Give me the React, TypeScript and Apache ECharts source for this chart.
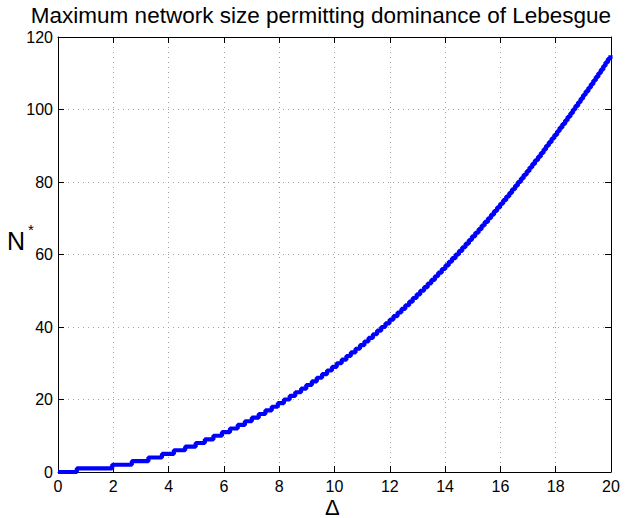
import React, { useEffect, useRef } from "react";
import * as echarts from "echarts";

const titleText = "Maximum network size permitting dominance of Lebesgue";
const xTicks = [0, 2, 4, 6, 8, 10, 12, 14, 16, 18, 20];
const yTicks = [0, 20, 40, 60, 80, 100, 120];

// Δ at which N* steps up to the corresponding level
const stepDelta = [
  0.68, 1.96, 2.67, 3.27, 3.76, 4.19, 4.6, 4.98, 5.31, 5.62,
  5.93, 6.22, 6.5, 6.76, 7.01, 7.26, 7.5, 7.73, 7.95, 8.17,
  8.38, 8.58, 8.79, 8.98, 9.18, 9.36, 9.55, 9.73, 9.91, 10.08,
  10.26, 10.43, 10.59, 10.76, 10.92, 11.08, 11.23, 11.39, 11.54, 11.69,
  11.84, 11.99, 12.13, 12.28, 12.42, 12.56, 12.7, 12.83, 12.97, 13.1,
  13.24, 13.37, 13.5, 13.63, 13.75, 13.88, 14.01, 14.13, 14.25, 14.38,
  14.5, 14.62, 14.74, 14.86, 14.97, 15.09, 15.21, 15.32, 15.43, 15.55,
  15.66, 15.77, 15.88, 15.99, 16.1, 16.21, 16.32, 16.42, 16.53, 16.63,
  16.74, 16.84, 16.95, 17.05, 17.15, 17.25, 17.36, 17.46, 17.56, 17.65,
  17.75, 17.85, 17.95, 18.05, 18.14, 18.24, 18.34, 18.43, 18.53, 18.62,
  18.71, 18.81, 18.9, 18.99, 19.08, 19.18, 19.27, 19.36, 19.45, 19.54,
  19.63, 19.72, 19.8, 19.89, 19.98,
];
const stepLevel = [
  1, 2, 3, 4, 5, 6, 7, 8, 9, 10,
  11, 12, 13, 14, 15, 16, 17, 18, 19, 20,
  21, 22, 23, 24, 25, 26, 27, 28, 29, 30,
  31, 32, 33, 34, 35, 36, 37, 38, 39, 40,
  41, 42, 43, 44, 45, 46, 47, 48, 49, 50,
  51, 52, 53, 54, 55, 56, 57, 58, 59, 60,
  61, 62, 63, 64, 65, 66, 67, 68, 69, 70,
  71, 72, 73, 74, 75, 76, 77, 78, 79, 80,
  81, 82, 83, 84, 85, 86, 87, 88, 89, 90,
  91, 92, 93, 94, 95, 96, 97, 98, 99, 100,
  101, 102, 103, 104, 105, 106, 107, 108, 109, 110,
  111, 112, 113, 114, 115,
];
const startPoint = [0, 0];
const endPoint = [20, 115];

const FONT = "'Liberation Sans', Arial, Helvetica, sans-serif";

export default function App() {
  const ref = useRef<HTMLDivElement>(null);
  useEffect(() => {
    if (!ref.current) return;
    const chart = echarts.init(ref.current, undefined, { renderer: "svg" });
    const data: number[][] = [startPoint];
    stepDelta.forEach((d, i) => data.push([d, stepLevel[i]]));
    data.push(endPoint);

    const xMin = xTicks[0];
    const xMax = xTicks[xTicks.length - 1];
    const yMin = yTicks[0];
    const yMax = yTicks[yTicks.length - 1];

    const baseAxis = {
      type: "value" as const,
      axisLine: { show: true, onZero: false, lineStyle: { color: "#000", width: 1 } },
      axisTick: { show: true, inside: true, length: 6, lineStyle: { color: "#000" } },
    };

    chart.setOption({
      animation: false,
      backgroundColor: "#fff",
      title: {
        text: titleText,
        left: 321,
        textAlign: "center",
        top: 4,
        padding: 0,
        textStyle: {
          fontFamily: FONT,
          fontSize: 22.5,
          lineHeight: 22,
          fontWeight: "normal",
          color: "#000",
        },
      },
      grid: { left: 58, right: 32, top: 37, bottom: 46, containLabel: false },
      xAxis: [
        {
          ...baseAxis,
          position: "bottom",
          min: xMin,
          max: xMax,
          interval: 2,
          axisLabel: { fontFamily: FONT, fontSize: 16, color: "#000", margin: 6 },
          splitLine: { show: true, lineStyle: { color: "#a0a0a0", type: [1, 4], width: 1 } },
        },
        {
          ...baseAxis,
          position: "top",
          min: xMin,
          max: xMax,
          interval: 2,
          axisLabel: { show: false },
          splitLine: { show: false },
        },
      ],
      yAxis: [
        {
          ...baseAxis,
          position: "left",
          min: yMin,
          max: yMax,
          interval: 20,
          axisLabel: { fontFamily: FONT, fontSize: 16, color: "#000", margin: 5 },
          splitLine: { show: true, lineStyle: { color: "#a0a0a0", type: [1, 4], width: 1 } },
        },
        {
          ...baseAxis,
          position: "right",
          min: yMin,
          max: yMax,
          interval: 20,
          axisLabel: { show: false },
          splitLine: { show: false },
        },
      ],
      graphic: [
        {
          type: "text",
          left: 325,
          top: 496,
          style: { text: "Δ", fontFamily: FONT, fontSize: 22, fill: "#000" },
        },
        {
          type: "text",
          left: 7,
          top: 228,
          style: { text: "N", fontFamily: FONT, fontSize: 25, fill: "#000" },
        },
        {
          type: "text",
          left: 28,
          top: 222,
          style: { text: "*", fontFamily: FONT, fontSize: 15, fill: "#000" },
        },
      ],
      series: [
        {
          type: "line",
          step: "end",
          xAxisIndex: 0,
          yAxisIndex: 0,
          data,
          showSymbol: false,
          lineStyle: { color: "#0000ff", width: 4.2 },
          silent: true,
        },
      ],
    });
    return () => chart.dispose();
  }, []);
  return (
    <div
      ref={ref}
      style={{ position: "fixed", left: 0, top: 0, width: 643, height: 518, background: "#fff" }}
    />
  );
}
